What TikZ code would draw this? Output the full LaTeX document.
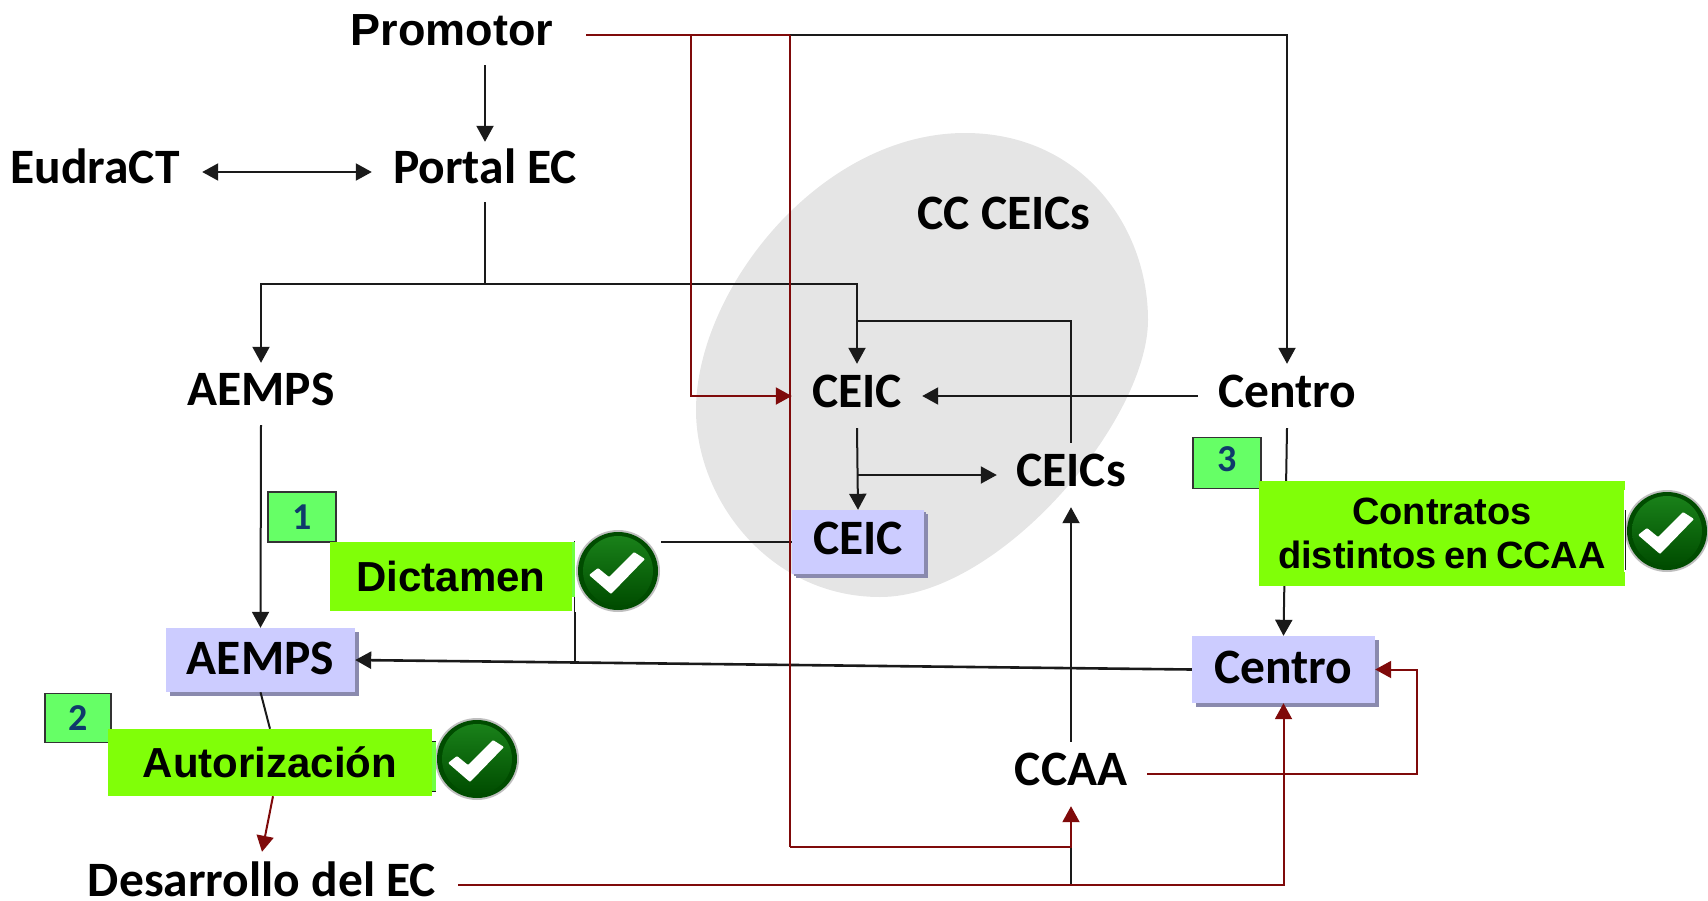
\documentclass[tikz,border=0pt]{standalone}
\usepackage{fontspec}
\setmainfont{Carlito}
\newfontfamily\arialf{Liberation Sans}
\usetikzlibrary{arrows.meta,shadows}
\definecolor{redline}{HTML}{7F0A0A}
\definecolor{blackline}{HTML}{1A1A1A}
\definecolor{boxblue}{HTML}{CCCCFF}
\definecolor{boxshadow}{HTML}{8A8AAE}
\definecolor{limeg}{HTML}{80FF08}
\definecolor{numg}{HTML}{66FF66}
\definecolor{navy}{HTML}{0F3A6B}
\pgfdeclarelayer{bgl}\pgfdeclarelayer{front}
\pgfsetlayers{bgl,main,front}
\tikzset{
  x=1pt,y=-1pt,
  lbl/.style={inner sep=0pt,font=\fontsize{49.5}{52}\selectfont\bfseries,text height=31pt,text depth=8pt,text=black},
  bluebox/.style={inner sep=0pt,fill=boxblue,font=\fontsize{49.5}{52}\selectfont\bfseries,text height=31pt,text depth=0pt,text=black,
     drop shadow={shadow xshift=3.5pt,shadow yshift=-3.5pt,fill=boxshadow,opacity=1}},
  limebox/.style={inner sep=0pt,fill=limeg,font=\arialf\fontsize{42}{44}\selectfont\bfseries,align=center,text=black},
  numbox/.style={inner sep=0pt,fill=numg,draw=black!80,line width=1.6pt,font=\fontsize{38}{40}\selectfont\bfseries,text=navy},
  blk/.style={draw=blackline,line width=2pt},
  red/.style={draw=redline,line width=2pt},
  arr/.style={-{Triangle[length=16pt,width=17pt]}},
  arrboth/.style={{Triangle[length=16pt,width=17pt]}-{Triangle[length=16pt,width=17pt]}}
}
\newcommand{\okicon}[2]{%
  \begin{scope}[shift={(#1,#2)}]
    \fill[white] (-43,-41) rectangle (43,41);
    \fill[black!25] (0,0) ellipse [x radius=42,y radius=41];
    \fill[green!30!black] (0,0) ellipse [x radius=40,y radius=39];
    \shade[top color=green!45!black!90!white,bottom color=green!30!black] (0,0) ellipse [x radius=35,y radius=35];
    \fill[white,rounded corners=1pt] (-29,4) -- (-7,23) -- (27,-12) -- (16,-19) -- (-9,6) -- (-20,-3) -- cycle;
  \end{scope}}
\begin{document}
\begin{tikzpicture}
\useasboundingbox (0,0) rectangle (1708,900);
\begin{pgfonlayer}{bgl}
  \fill[black!10] (965,133) .. controls (1080,133) and (1148,225) .. (1148,320)
     .. controls (1148,420) and (1000,597) .. (880,597)
     .. controls (770,597) and (696,500) .. (696,410)
     .. controls (696,290) and (820,133) .. (965,133) -- cycle;
\end{pgfonlayer}
% text nodes
\node[inner sep=0pt,font=\arialf\fontsize{45}{48}\selectfont\bfseries,text height=30pt,text depth=14pt,minimum width=268pt,minimum height=56pt] (promotor) at (452,37) {Promotor};
\node[lbl,minimum width=214pt] (eudract) at (95,172) {EudraCT};
\node[lbl,minimum width=226pt,minimum height=60pt] (portal) at (485,172) {Portal EC};
\node[lbl] (cc) at (1004,218) {CC CEICs};
\node[lbl,minimum height=62pt] (aemps) at (261,394) {AEMPS};
\node[lbl,minimum width=130pt,minimum height=64pt] (ceic) at (857,396) {CEIC};
\node[lbl,minimum width=178pt,minimum height=64pt] (centro) at (1287,396) {Centro};
\node[lbl,minimum width=148pt,minimum height=64pt] (ceics) at (1071,475) {CEICs};
\node[lbl,minimum width=152pt,minimum height=64pt] (ccaa) at (1071,774) {CCAA};
\node[lbl,text depth=0pt,minimum width=392pt,minimum height=58pt] (desarrollo) at (262,881) {Desarrollo del EC};
% blue boxes
\node[bluebox,text depth=6.5pt,minimum width=132pt,minimum height=64pt,drop shadow={shadow xshift=2pt,shadow yshift=-2pt,fill=boxshadow,opacity=1}] (ceicB) at (858,542) {CEIC};
\node[bluebox,text depth=2pt,minimum width=189pt,minimum height=64pt] (aempsB) at (260.5,660) {AEMPS};
\node[bluebox,text depth=4pt,minimum width=183pt,minimum height=67pt] (centroB) at (1283.5,669.5) {Centro};
% front labels
\begin{pgfonlayer}{front}
  \node[numbox,minimum width=68pt,minimum height=50pt] (n1) at (302,517) {1};
  \node[numbox,minimum width=66pt,minimum height=49pt] (n2) at (78,718) {2};
  \node[numbox,minimum width=68pt,minimum height=51pt,text depth=4pt,text height=20pt] (n3) at (1227,463) {3};
  \node[limebox,minimum width=242pt,minimum height=69pt] (dict) at (451,576.5) {Dictamen};
  \node[limebox,minimum width=324pt,minimum height=67pt] (autor) at (270,762.5) {Autorización};
  \node[limebox,minimum width=366pt,minimum height=105pt,font=\arialf\fontsize{38}{44}\selectfont\bfseries] (contr) at (1442,533.5) {Contratos\\\spaceskip=.2em distintos en CCAA};
  \okicon{618}{571}
  \okicon{477}{759}
  \okicon{1667}{531}
  \fill[numg!60!limeg] (572,542) rectangle (575,597);
  \fill[numg!60!limeg] (432,741) rectangle (436,791);
  \draw[blk,line width=1pt] (432,741) -- (436,741) (432,791) -- (436,791);
  \draw[blk,line width=1pt] (1625,510) -- (1625,570);
\end{pgfonlayer}
% coordinates
\coordinate (rb) at (691,35);
\coordinate (rv) at (790,35);
\coordinate (rc) at (790,847);
\coordinate (j) at (485,284);
\coordinate (k) at (857,321);
\coordinate (bus) at (1071,885);
\coordinate (busup) at (1071,847);
\coordinate (ri) at (1417,720);
\coordinate (dc) at (574.5,542);
\coordinate (dd) at (574.5,661);
% black connectors
\draw[blk,arr] (portal.north |- promotor.south) -- (portal.north);
\draw[blk,arrboth] (eudract.east) -- (portal.west);
\draw[blk] (portal.south) -- (j);
\draw[blk,arr] (j) -| (aemps.north);
\draw[blk,arr] (j) -| (ceic.north);
\draw[blk,arr] (rv) -| (centro.north);
\draw[blk] (ceics.north) |- (k);
\draw[blk,arr] (ceic.south) -- (ceicB.north);
\draw[blk,arr] (ceic.south |- ceics.west) -- (ceics.west);
\draw[blk,arr] (centro.west) -- (ceic.east);
\draw[blk,arr] (centro.south) -- (centroB.north);
\draw[blk,arr] (ccaa.north) -- (ceics.south);
\draw[blk,arr] (aemps.south) -- (aempsB.north);
\draw[blk,arr,line width=2.6pt] (centroB.west) -- (aempsB.east);
\draw[blk] (ceicB.west) -- (dc) -- (dd);
\draw[blk] (aempsB.south) -- (autor.north);
\draw[blk] (bus) -- (busup);
% red connectors
\draw[red] (promotor.east |- rb) -- (rv);
\draw[red,arr] (rb) |- (ceic.west);
\draw[red] (rv) -- (rc);
\draw[red,arr] (rc) -| (ccaa.south);
\draw[red,arr] ([yshift=-4pt]desarrollo.east) -| (centroB.south);
\draw[red,arr] (ccaa.east) -| (ri) |- (centroB.east);
\draw[red,arr] ([xshift=3pt]autor.south) -- (desarrollo.north);
\end{tikzpicture}
\end{document}
